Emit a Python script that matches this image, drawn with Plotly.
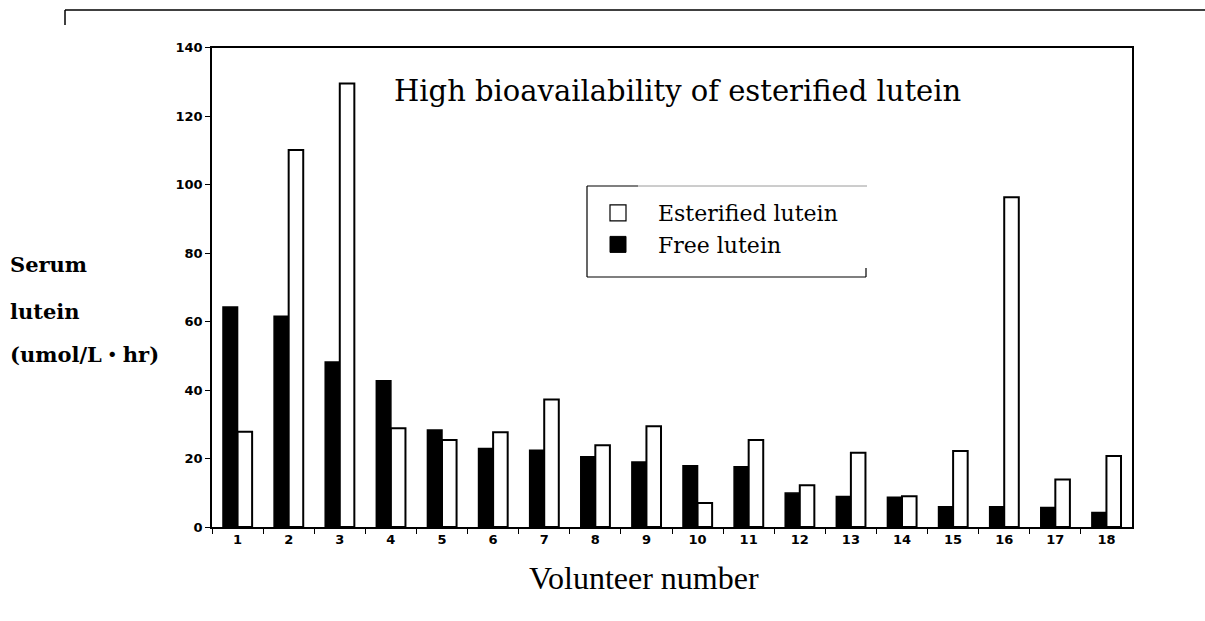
import plotly.graph_objects as go

volunteers = [str(i) for i in range(1, 19)]
free_lutein = [64.2, 61.5, 48.2, 42.7, 28.3, 22.9, 22.4, 20.5, 19.0, 17.9, 17.6, 9.9, 8.9, 8.7, 5.9, 5.9, 5.7, 4.2]
esterified_lutein = [27.8, 110.1, 129.5, 28.8, 25.4, 27.7, 37.2, 23.9, 29.4, 7.0, 25.4, 12.2, 21.7, 9.0, 22.2, 96.3, 13.9, 20.7]
y_ticks = [0, 20, 40, 60, 80, 100, 120, 140]

W, H = 1205, 621


def px(x):
    return x / W


def py(y):
    return 1 - y / H


fig = go.Figure()
fig.add_trace(go.Bar(
    x=volunteers, y=free_lutein, name="Free lutein",
    marker=dict(color="black", line=dict(color="black", width=1.5)),
    showlegend=False,
))
fig.add_trace(go.Bar(
    x=volunteers, y=esterified_lutein, name="Esterified lutein",
    marker=dict(color="white", line=dict(color="black", width=2)),
    showlegend=False,
))
# legend entries
fig.add_trace(go.Scatter(
    x=[None], y=[None], mode="markers", name="Esterified lutein", legendgroup="est", legendrank=1,
    marker=dict(symbol="square", size=16, color="white", line=dict(color="black", width=1.2)),
))
fig.add_trace(go.Scatter(
    x=[None], y=[None], mode="markers", name="Free lutein", legendgroup="free", legendrank=2,
    marker=dict(symbol="square", size=16, color="black", line=dict(color="black", width=1)),
))

tick_font = dict(family="DejaVu Sans", size=13, color="black", weight="bold")

fig.update_layout(
    width=W, height=H,
    autosize=False,
    margin=dict(l=0, r=0, t=0, b=0, pad=0, autoexpand=False),
    paper_bgcolor="white", plot_bgcolor="white",
    barmode="group", bargap=0.43, bargroupgap=0,
    xaxis=dict(
        domain=[px(212), px(1132)],
        type="category", categoryorder="array", categoryarray=volunteers,
        range=[-0.5, 17.5],
        showline=True, linecolor="black", linewidth=1.5, mirror=True,
        ticks="outside", tickson="boundaries", ticklen=5, tickcolor="black", tickwidth=1,
        tickfont=tick_font, automargin=False,
        showgrid=False, zeroline=False, fixedrange=True,
    ),
    yaxis=dict(
        domain=[py(527), py(47.5)],
        range=[0, 140],
        tickvals=y_ticks,
        showline=True, linecolor="black", linewidth=1.5, mirror=True,
        ticks="outside", ticklen=5, tickcolor="black", tickwidth=1,
        tickfont=tick_font, automargin=False,
        showgrid=False, zeroline=False, fixedrange=True,
    ),
    legend=dict(
        x=px(578), y=py(192), xanchor="left", yanchor="top",
        bgcolor="rgba(0,0,0,0)", borderwidth=0,
        itemwidth=70, traceorder="grouped", tracegroupgap=0,
        font=dict(family="DejaVu Serif", size=22, color="black"),
    ),
    showlegend=True,
)

shapes = [
    # top-left bracket
    dict(type="line", xref="paper", yref="paper", x0=px(65), y0=py(10), x1=px(1205), y1=py(10),
         line=dict(color="black", width=1.5)),
    dict(type="line", xref="paper", yref="paper", x0=px(65), y0=py(10), x1=px(65), y1=py(25),
         line=dict(color="black", width=1.5)),
    # legend box
    dict(type="line", xref="paper", yref="paper", x0=px(587), y0=py(186), x1=px(587), y1=py(277),
         line=dict(color="black", width=1.2)),
    dict(type="line", xref="paper", yref="paper", x0=px(587), y0=py(277), x1=px(866), y1=py(277),
         line=dict(color="black", width=1.2)),
    dict(type="line", xref="paper", yref="paper", x0=px(587), y0=py(186), x1=px(638), y1=py(186),
         line=dict(color="black", width=1.2)),
    dict(type="line", xref="paper", yref="paper", x0=px(638), y0=py(186), x1=px(867), y1=py(186),
         line=dict(color="#9a9a9a", width=1)),
    dict(type="line", xref="paper", yref="paper", x0=px(866), y0=py(268), x1=px(866), y1=py(277),
         line=dict(color="black", width=1.2)),
]
fig.update_layout(shapes=shapes)

annotations = [
    dict(text="High bioavailability of esterified lutein", x=px(677), y=py(91),
         font=dict(family="DejaVu Serif", size=29, color="black")),
    dict(text="Volunteer number", x=px(644), y=py(578),
         font=dict(family="Liberation Serif", size=32, color="black")),
    dict(text="Serum", x=px(8), y=py(264), xanchor="left",
         font=dict(family="DejaVu Serif", size=21, color="black", weight="bold")),
    dict(text="lutein", x=px(8), y=py(311), xanchor="left",
         font=dict(family="DejaVu Serif", size=21, color="black", weight="bold")),
    dict(text="(umol/L・hr)", x=px(8), y=py(354), xanchor="left",
         font=dict(family="DejaVu Serif, Noto Sans CJK JP", size=21, color="black", weight="bold")),
]
for a in annotations:
    a.update(xref="paper", yref="paper", showarrow=False)
    a.setdefault("xanchor", "center")
    a.setdefault("yanchor", "middle")
fig.update_layout(annotations=annotations)

fig.write_html(
    "out.html",
    config={"displayModeBar": False},
    post_script="document.body.style.margin='0';document.body.style.overflow='hidden';",
)
